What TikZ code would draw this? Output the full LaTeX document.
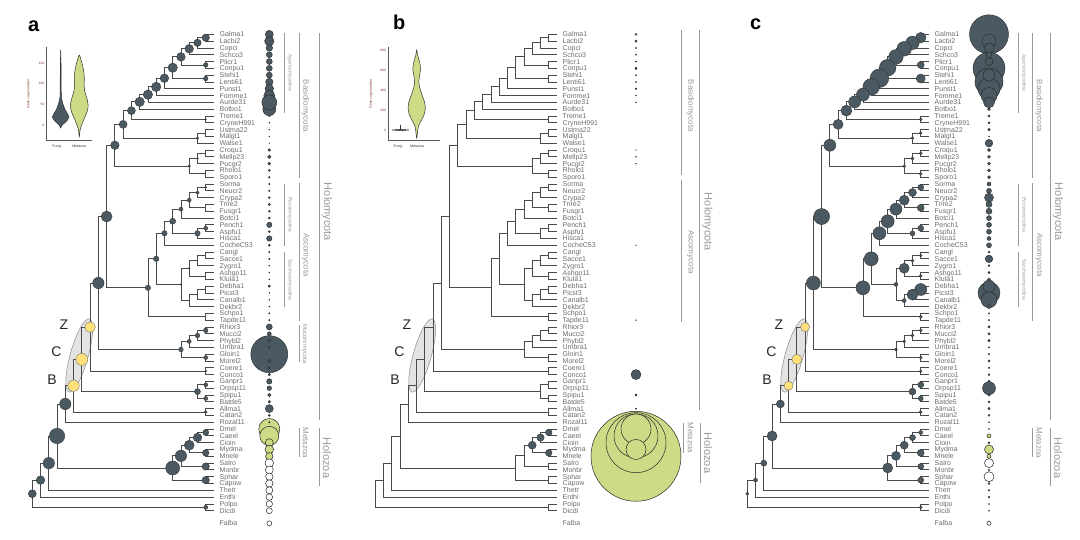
\documentclass[tikz,border=0pt]{standalone}
\usepackage{fontspec}
\setmainfont{Liberation Sans}
\usetikzlibrary{calc}
\definecolor{dk}{HTML}{4B5A62}
\definecolor{gr}{HTML}{CCDB85}
\definecolor{yl}{HTML}{FFE07A}
\definecolor{tx}{HTML}{6E6E6E}
\definecolor{ln}{HTML}{4A4A4A}
\definecolor{brk}{HTML}{9A9A9A}
\definecolor{axr}{HTML}{7A2A1A}
\tikzset{
 br/.style={draw=ln, line width=0.8pt},
 lab/.style={anchor=base west, inner sep=0, text=tx, font=\fontsize{7}{7}\selectfont},
 dn/.style={fill=dk, draw=black!80, line width=0.4pt},
 yn/.style={fill=yl, draw=black!55, line width=0.4pt},
 bd/.style={fill=dk, draw=black!85, line width=0.4pt},
 bg/.style={fill=gr, draw=black!85, line width=0.5pt},
 bw/.style={fill=white, draw=black!85, line width=0.5pt},
 brline/.style={draw=brk, line width=0.7pt},
 brlab/.style={text=brk, rotate=-90, inner sep=0, anchor=center},
 sml/.style={brlab, font=\fontsize{5}{5}\selectfont},
 mid/.style={brlab, font=\fontsize{8}{8}\selectfont},
 big/.style={brlab, font=\fontsize{11}{11}\selectfont},
 hyp/.style={text=black!85, font=\fontsize{14}{14}\selectfont, inner sep=0},
 plab/.style={font=\fontsize{20}{20}\selectfont\bfseries, inner sep=0, anchor=base west},
 ax/.style={draw=black!65, line width=0.6pt},
 tick/.style={font=\fontsize{3.2}{3.2}\selectfont, text=axr, inner sep=0, anchor=east},
 xl/.style={font=\fontsize{3.6}{3.6}\selectfont, text=black!80, inner sep=0},
 vd/.style={fill=dk, draw=black!80, line width=0.5pt},
 vg/.style={fill=gr, draw=black!80, line width=0.5pt},
}
\def\pfx{a-}
\newcommand\nd[4]{%
 \coordinate (\pfx#1m) at ($(\pfx#3)!0.5!(\pfx#4)$);%
 \pgfmathsetmacro\ndx{214-8.26*#2}%
 \coordinate (\pfx#1) at (\ndx,0 |- \pfx#1m);%
 \draw[br] (\pfx#3) -| (\pfx#1) |- (\pfx#4);}
\newcommand\nc[3]{\path[#3] (\pfx#1) circle (#2pt);}
\newcommand\bub[3]{\path[#3] (\bx,0 |- \pfx#1) circle (#2pt);}
\newcommand\leaves{%
 \foreach \n [count=\i] in {Galma1,Lacbi2,Copci,Schco3,Plicr1,Conpu1,Stehi1,Lenti61,Punst1,Fomme1,Aurde31,Botbo1,Treme1,CryneH991,Ustma22,Malgl1,Walse1,Croqu1,Mellp23,Pucgr2,Rholo1,Sporo1,Sorma,Neucr2,Crypa2,Trire2,Fusgr1,Botci1,Pench1,Aspfu1,Hisca1,CocheC53,Cangl,Sacce1,Zygro1,Ashgo11,Klula1,Debha1,Picst3,Canalb1,Dekbr2,Schpo1,Tapde11,Rhior3,Mucci2,Phybl2,Umbra1,Gloin1,Morel2,Coere1,Conco1,Ganpr1,Orpsp11,Spipu1,Batde5,Allma1,Catan2,Rozal11,Dmel,Caeel,Cioin,Mydma,Mnele,Salro,Monbr,Sphar,Capow,Thetr,Enthi,Polpo,Dicdi,Falba} {%
   \pgfmathsetmacro\yy{\i<72 ? 34.3+(\i-1)*6.806 : 523.3}%
   \coordinate (\pfx\n) at (214,\yy);%
   \node[lab] (\pfx L\n) at (219.5,\yy+2.5) {\n};%
 }}
\newcommand\ellipseZCB{%
 \begin{scope}[shift={(79.2,355.5)}, rotate=-15.6]
  \path[fill=black!11, draw=black!45, line width=0.5pt] (0,0) ellipse (9pt and 38pt);
 \end{scope}}
\newcommand\buildtree{%
 \nd{GL}{1}{Galma1}{Lacbi2}\nd{GLC}{2}{GL}{Copci}\nd{A3}{3}{GLC}{Schco3}
 \nd{PC}{1}{Plicr1}{Conpu1}\nd{A4}{4}{A3}{PC}\nd{SL}{1}{Stehi1}{Lenti61}
 \nd{A5}{5}{A4}{SL}\nd{A6}{6}{A5}{Punst1}\nd{A7}{7}{A6}{Fomme1}
 \nd{A8}{8}{A7}{Aurde31}\nd{A9}{9}{A8}{Botbo1}\nd{TC}{1}{Treme1}{CryneH991}
 \nd{A10}{10}{A9}{TC}\nd{UM}{1}{Ustma22}{Malgl1}\nd{UMW}{2}{UM}{Walse1}
 \nd{A11}{11}{A10}{UMW}\nd{CM}{1}{Croqu1}{Mellp23}\nd{CMP}{2}{CM}{Pucgr2}
 \nd{RS}{1}{Rholo1}{Sporo1}\nd{PU}{3}{CMP}{RS}\nd{BAS}{12}{A11}{PU}
 \nd{SN}{1}{Sorma}{Neucr2}\nd{SNC}{2}{SN}{Crypa2}\nd{TF}{1}{Trire2}{Fusgr1}
 \nd{SO}{3}{SNC}{TF}\nd{SOB}{4}{SO}{Botci1}\nd{PA}{1}{Pench1}{Aspfu1}
 \nd{PAH}{2}{PA}{Hisca1}\nd{P5}{5}{SOB}{PAH}\nd{PEZ}{6}{P5}{CocheC53}
 \nd{CS}{1}{Cangl}{Sacce1}\nd{CSZ}{2}{CS}{Zygro1}\nd{AK}{1}{Ashgo11}{Klula1}
 \nd{S3}{3}{CSZ}{AK}\nd{DP}{1}{Debha1}{Picst3}\nd{DPC}{2}{DP}{Canalb1}
 \nd{DPCD}{3}{DPC}{Dekbr2}\nd{SAC}{4}{S3}{DPCD}\nd{PS}{7}{PEZ}{SAC}
 \nd{ST}{1}{Schpo1}{Tapde11}\nd{ASC}{8}{PS}{ST}\nd{DIK}{13}{BAS}{ASC}
 \nd{RM}{1}{Rhior3}{Mucci2}\nd{RMP}{2}{RM}{Phybl2}\nd{RMPU}{3}{RMP}{Umbra1}
 \nd{GMo}{1}{Gloin1}{Morel2}\nd{MUC}{4}{RMPU}{GMo}\nd{X}{14}{DIK}{MUC}
 \nd{CC}{1}{Coere1}{Conco1}\nd{Z}{15}{X}{CC}\nd{GO}{1}{Ganpr1}{Orpsp11}
 \nd{SB}{1}{Spipu1}{Batde5}\nd{CHY}{2}{GO}{SB}\nd{C}{16}{Z}{CHY}
 \nd{AC}{1}{Allma1}{Catan2}\nd{B}{17}{C}{AC}\nd{N18}{18}{B}{Rozal11}
 \nd{DC}{1}{Dmel}{Caeel}\nd{DCC}{2}{DC}{Cioin}\nd{MM}{1}{Mydma}{Mnele}
 \nd{H3}{3}{DCC}{MM}\nd{SM}{1}{Salro}{Monbr}\nd{H4}{4}{H3}{SM}
 \nd{SC}{1}{Sphar}{Capow}\nd{HOL}{5}{H4}{SC}\nd{OPI}{19}{N18}{HOL}
 \nd{N20}{20}{OPI}{Thetr}\nd{N21}{21}{N20}{Enthi}\nd{PD}{1}{Polpo}{Dicdi}
 \nd{ROOT}{22}{N21}{PD}}
\newcommand\hyplabels{%
 \node[hyp] (\pfx hz) at (64,325) {Z};
 \node[hyp] (\pfx hc) at (56.5,352) {C};
 \node[hyp] (\pfx hb) at (52,380) {B};}
\begin{document}
\begin{tikzpicture}[x=1pt,y=-1pt]
\useasboundingbox (0,0) rectangle (1080,540);
\fill[white] (0,0) rectangle (1080,540);
% ================= panel a =================
\begin{scope}
\def\pfx{a-}\def\bx{269.3}
\ellipseZCB
\leaves
\buildtree
\foreach \n/\r in {GL/3.7,GLC/3.7,A3/4.3,A4/4.3,A5/4.7,A6/4.3,A7/4.7,A8/4.7,A9/4.7,A10/4,A11/4,BAS/4.3,PC/2.3,SL/2.3,TC/0.8,UMW/1.2,PU/1.2,CMP/0.8,
  DIK/5.5,X/5.7,ASC/2.7,PS/2.7,PEZ/2.7,P5/3,SOB/2,SO/2,SNC/1.7,SN/1,PA/2,PAH/2.7,S3/0.8,SAC/0.8,
  MUC/2.3,RMPU/2,RMP/2.3,RM/2.3,GMo/2,CC/1,CHY/3,GO/2,SB/2,AC/1.5,
  N18/5.7,OPI/7.7,N20/5.7,N21/4.3,ROOT/4,PD/2,HOL/7,H4/5.7,H3/5,DCC/4.3,DC/3,MM/3.3,SM/3.7,SC/3.7}
  {\nc{\n}{\r}{dn}}
\nc{Z}{5.3}{yn}\nc{C}{6}{yn}\nc{B}{5.7}{yn}
\hyplabels
% bubbles
\bub{Gloin1}{18.5}{bd}
\bub{Dmel}{10.5}{bg}\bub{Caeel}{9.5}{bg}
\foreach \n/\r in {Galma1/4,Lacbi2/4.7,Copci/3.3,Schco3/3,Plicr1/3,Conpu1/3,Stehi1/3,Lenti61/3.7,Punst1/4.3,Fomme1/5.5,Botbo1/6.5,Aurde31/7.5,Treme1/0.7,CryneH991/0.5,Ustma22/0.4,Malgl1/0.4,Walse1/0.3,Croqu1/1.3,Mellp23/1.8,Pucgr2/1.5,Rholo1/1,Sporo1/0.8,Sorma/0.7,Neucr2/0.8,Crypa2/1,Trire2/1.2,Fusgr1/1,Botci1/1,Pench1/2.7,Aspfu1/1,Hisca1/2.7,CocheC53/1,Cangl/0.7,Sacce1/0.7,Zygro1/0.5,Ashgo11/0.5,Klula1/0.5,Debha1/1.2,Picst3/0.5,Canalb1/0.5,Dekbr2/0.5,Schpo1/0.7,Tapde11/0.7,Rhior3/3,Mucci2/2,Phybl2/1.7,Umbra1/1,Morel2/1.7,Coere1/1,Conco1/1.3,Ganpr1/2.7,Orpsp11/2.3,Spipu1/1.7,Batde5/1.3,Allma1/4,Catan2/1,Rozal11/0.7}
  {\bub{\n}{\r}{bd}}
\foreach \n/\r in {Cioin/4,Mydma/4.3,Mnele/3.7} {\bub{\n}{\r}{bg}}
\foreach \n/\r in {Salro/4.3,Monbr/4,Sphar/3.7,Capow/3.7,Thetr/3.5,Enthi/3.3,Polpo/3.2,Dicdi/3,Falba/2.5} {\bub{\n}{\r}{bw}}
\end{scope}
% brackets a
\draw[brline] (284.3,33) -- (284.3,113); \node[sml] at (290,73) {Agaricomycotina};
\draw[brline] (299,33) -- (299,178); \node[mid] at (305.5,106) {Basidiomycota};
\draw[brline] (284.3,184) -- (284.3,246); \node[sml] at (290,215) {Pezizomycotina};
\draw[brline] (284.3,252) -- (284.3,307); \node[sml] at (290,280) {Saccharomycotina};
\draw[brline] (299,183) -- (299,321); \node[mid] at (305.5,255) {Ascomycota};
\draw[brline] (299,325) -- (299,362); \node[brlab,font=\fontsize{6}{6}\selectfont] at (304.5,344) {Mucoromycota};
\draw[brline] (319.3,33) -- (319.3,420); \node[big] at (327,212) {Holomycota};
\draw[brline] (299,428) -- (299,457); \node[mid] at (305.5,443) {Metazoa};
\draw[brline] (319.3,428) -- (319.3,486); \node[big] at (327,458) {Holozoa};
\node[plab] (pa) at (28,32) {a};
% violin a
\draw[ax] (46.7,47) -- (46.7,140) -- (92,140);
\foreach \v/\y in {0/125,50/104.3,100/83.7,150/63.3} {\node[tick] at (44.5,\y) {\v};}
\node[tick, anchor=center, rotate=90, font=\fontsize{3.4}{3.4}\selectfont] at (28.5,94) {Gene copy number};
\node[xl] at (57,146.5) {Fungi};
\node[xl] at (79.3,146.5) {Metazoa};
\path[vd] plot[smooth cycle, tension=0.5] coordinates {(60.7,50) (61.1,70) (61.3,95) (62,100) (63.3,105) (65.3,110) (67.7,114) (69,117) (67.5,120) (64.5,123) (61.8,125.5) (60.7,128) (59.6,125.5) (56.9,123) (53.9,120) (52.4,117) (53.7,114) (56.1,110) (58.1,105) (59.4,100) (60.1,95) (60.3,70)};
\path[vg] plot[smooth cycle, tension=0.5] coordinates {(79.3,55) (81.1,60) (82.5,65) (83.5,70) (84.1,75) (84.3,80) (84.1,85) (84.5,90) (85.8,95) (87.3,100) (88.1,105) (87.6,110) (85.8,115) (83.6,120) (81.6,125) (80.1,130) (79.3,136.7) (78.5,130) (77,125) (75,120) (72.8,115) (71,110) (70.5,105) (71.3,100) (72.8,95) (74.1,90) (74.5,85) (74.3,80) (74.5,75) (75.1,70) (76.1,65) (77.5,60)};
% ================= panel b =================
\begin{scope}[xshift=343pt]
\def\pfx{b-}\def\bx{293}
\ellipseZCB
\leaves
\buildtree
\foreach \n/\r in {H3/4,DC/3.3,DCC/3.7,MM/3.3} {\nc{\n}{\r}{dn}}
\hyplabels
\bub{Mnele}{45}{bg}\bub{Cioin}{30}{bg}\bub{Caeel}{22}{bg}\bub{Dmel}{15}{bg}\bub{Mydma}{10}{bg}
\foreach \n/\r in {Galma1/1,Lacbi2/1.2,Copci/0.6,Schco3/0.6,Plicr1/0.6,Conpu1/1.2,Stehi1/0.6,Lenti61/0.6,Punst1/0.8,Fomme1/0.5,Aurde31/0.5,Mellp23/0.5,Croqu1/0.4,Pucgr2/0.4,CocheC53/0.4,Tapde11/0.4,Conco1/5,Spipu1/1,Allma1/0.6}
  {\bub{\n}{\r}{bd}}
\end{scope}
\draw[brline] (681.7,30) -- (681.7,175); \node[mid] at (690.5,106) {Basidiomycota};
\draw[brline] (681.7,180) -- (681.7,322); \node[mid] at (690.5,252) {Ascomycota};
\draw[brline] (699.3,30) -- (699.3,410); \node[big] at (707.5,222) {Holomycota};
\draw[brline] (683.3,423) -- (683.3,453); \node[mid] at (690.5,438) {Metazoa};
\draw[brline] (700,423) -- (700,483); \node[big] at (708,453) {Holozoa};
\node[plab] (pb) at (393,30) {b};
% violin b
\draw[ax] (388.3,46.7) -- (388.3,140) -- (440,140);
\foreach \v/\y in {0/130.7,200/110.7,400/90.7,600/70.7,800/50.7} {\node[tick] at (386,\y) {\v};}
\node[tick, anchor=center, rotate=90, font=\fontsize{3.4}{3.4}\selectfont] at (371,94) {Gene copy number};
\node[xl] at (398,146.5) {Fungi};
\node[xl] at (417,146.5) {Metazoa};
\draw[black!80, line width=0.5pt] (400.5,125.5) -- (400.5,130);
\path[vd] (392,130) -- (400.5,129.3) -- (409,130) -- (400.5,130.7) -- cycle;
\path[vg] plot[smooth cycle, tension=0.5] coordinates {(416.7,50) (417.6,55) (419,60) (420.2,65) (420.5,70) (419.5,76) (418.8,82) (419.8,88) (422,95) (424.5,102) (425.3,108) (424,115) (421,121) (418.2,127) (416.7,138) (415.2,127) (412.4,121) (409.4,115) (408.1,108) (408.9,102) (411.4,95) (413.6,88) (414.6,82) (413.9,76) (412.9,70) (413.2,65) (414.4,60) (415.8,55)};
% ================= panel c =================
\begin{scope}[xshift=715pt]
\def\pfx{c-}\def\bx{274}
\ellipseZCB
\leaves
\buildtree
\foreach \n/\r in {GL/5.3,GLC/6.7,A3/7.3,A4/7.3,A5/8.3,A6/9.3,A7/8.3,A8/6.5,A9/6,A10/5.5,A11/5,BAS/6,PC/3.5,SL/4.5,TC/1.5,UM/1.3,UMW/1.5,CM/1.5,CMP/1.5,RS/1.5,PU/1.5,
  DIK/8,X/7,ASC/7,PS/7,PEZ/6.5,P5/6.5,SOB/6,SO/5,SNC/4,SN/3,TF/3.5,PA/3,PAH/2.5,S3/5,CS/1.3,CSZ/1.5,AK/1.5,DP/6,DPC/5.5,DPCD/2,SAC/2,ST/1.5,
  MUC/1.5,RMPU/1.5,RMP/1.5,RM/1.5,GMo/1.5,CC/1.3,CHY/3.5,GO/3,SB/2.5,AC/1.5,N18/4,OPI/5,N20/3,N21/2,ROOT/1.5,HOL/5,H4/4.5,H3/4,DCC/3,DC/2,MM/3.5,SM/3,SC/3,PD/1.5}
  {\nc{\n}{\r}{dn}}
\nc{Z}{4.5}{yn}\nc{C}{5}{yn}\nc{B}{4.5}{yn}
\hyplabels
\bub{Galma1}{19.5}{bd}\bub{Conpu1}{16}{bd}\bub{Lenti61}{14}{bd}\bub{Punst1}{11}{bd}\bub{Picst3}{11}{bd}\bub{Canalb1}{8}{bd}\bub{Fomme1}{8}{bd}
\foreach \n/\r in {Lacbi2/7,Copci/5,Schco3/3,Plicr1/4,Stehi1/6,Aurde31/5.5,Botbo1/1.5,Treme1/1,CryneH991/1,Ustma22/1.3,Malgl1/0.5,Walse1/3.8,Croqu1/1.5,Mellp23/1.5,Pucgr2/1.5,Rholo1/1.5,Sporo1/1.5,Sorma/2,Neucr2/2.5,Crypa2/4.5,Trire2/3,Fusgr1/3,Botci1/2.5,Pench1/2.5,Aspfu1/2.5,Hisca1/2,CocheC53/2.5,Cangl/1,Sacce1/3.8,Zygro1/1,Ashgo11/1,Klula1/1.5,Debha1/6,Dekbr2/2,Schpo1/0.7,Tapde11/0.7,Rhior3/1.2,Mucci2/1.2,Phybl2/1.2,Umbra1/0.7,Gloin1/0.7,Morel2/1.2,Coere1/0.7,Conco1/1,Ganpr1/1.2,Orpsp11/6.5,Spipu1/1.2,Batde5/1,Allma1/1.2,Catan2/1,Rozal11/0.5}
  {\bub{\n}{\r}{bd}}
\foreach \n/\r in {Dmel/0.5,Caeel/2,Cioin/1,Mydma/4.5,Mnele/2} {\bub{\n}{\r}{bg}}
\foreach \n/\r in {Salro/4.5,Monbr/1,Sphar/5,Capow/1,Thetr/0.8,Enthi/0.8,Polpo/0.5,Dicdi/0.5,Falba/2} {\bub{\n}{\r}{bw}}
\end{scope}
\draw[brline] (1018,33) -- (1018,113); \node[sml] at (1024,73) {Agaricomycotina};
\draw[brline] (1032,33) -- (1032,178); \node[mid] at (1039,106) {Basidiomycota};
\draw[brline] (1018,184) -- (1018,246); \node[sml] at (1024,215) {Pezizomycotina};
\draw[brline] (1018,252) -- (1018,307); \node[sml] at (1024,280) {Saccharomycotina};
\draw[brline] (1032,183) -- (1032,321); \node[mid] at (1039,255) {Ascomycota};
\draw[brline] (1050,33) -- (1050,420); \node[big] at (1058,212) {Holomycota};
\draw[brline] (1032,428) -- (1032,457); \node[mid] at (1039,443) {Metazoa};
\draw[brline] (1050,428) -- (1050,486); \node[big] at (1058,458) {Holozoa};
\node[plab] (pc) at (750,30) {c};
\end{tikzpicture}
\end{document}
